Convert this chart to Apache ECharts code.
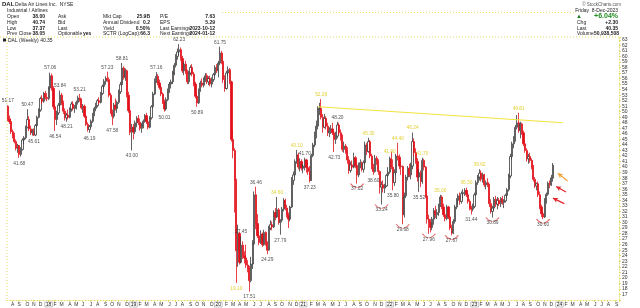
<!DOCTYPE html>
<html><head><meta charset="utf-8">
<script src="https://cdn.jsdelivr.net/npm/echarts@6/dist/echarts.min.js"></script>
<style>html,body{margin:0;padding:0;background:#fff}#c{width:640px;height:308px}</style>
</head><body><div id="c"></div>
<script>
// ---- categories (weekly, Fridays) ----
const firstWeek = [2017, 6, 14];   // 2017-07-14
const weekCount = 375;              // includes empty future weeks to Sep 2024
const monthLetters = ['J','F','M','A','M','J','J','A','S','O','N','D'];

// ---- weekly bars [open, high, low, close] ----
const bars2017 = [
[51.0,51.17,48.3,48.6],[48.6,49.3,47.8,48.2],[48.2,48.8,46.0,46.4],[46.4,46.8,45.2,45.6],[45.6,46.2,44.3,44.6],
[44.6,45.0,43.0,43.4],[43.4,44.2,42.6,43.9],[43.9,44.0,41.68,42.3],[42.3,43.6,41.9,43.2],[43.2,45.2,43.0,44.9],
[44.9,45.6,44.2,45.3],[45.3,47.5,45.0,47.2],[47.2,50.47,47.0,48.6],[48.6,49.2,46.5,46.9],[46.9,47.5,45.8,46.2],
[46.2,46.9,45.7,46.5],[46.5,47.0,45.61,45.8],[45.8,47.8,45.6,47.5],[47.5,49.3,47.2,49.0],[49.0,50.6,48.8,50.3],
[50.3,52.7,50.0,52.4],[52.4,53.0,51.4,51.9],[51.9,53.6,51.6,53.3],[53.3,53.8,52.2,52.6],[52.6,53.4,51.9,52.4]];
const bars2018 = [
[52.4,54.6,52.1,54.3],[54.3,57.06,54.0,56.5],[56.5,56.9,53.8,54.2],[54.2,54.6,50.4,50.9],[50.9,51.4,46.54,48.6],
[48.6,50.2,47.6,49.8],[49.8,51.6,49.4,51.2],[51.2,53.84,50.9,53.0],[53.0,53.4,51.2,51.6],[51.6,52.0,49.6,50.1],
[50.1,50.6,48.4,48.9],[48.9,49.8,48.21,49.4],[49.4,50.4,48.6,49.0],[49.0,50.8,48.8,50.5],[50.5,51.8,50.0,51.4],
[51.4,51.9,50.2,50.6],[50.6,51.2,49.8,50.9],[50.9,52.0,50.4,51.7],[51.7,52.9,51.3,52.5],[52.5,53.21,51.8,52.1],
[52.1,52.4,50.4,50.7],[50.7,51.4,49.8,51.0],[51.0,51.3,48.9,49.2],[49.2,49.6,47.4,47.7],[47.7,48.1,46.4,46.8],
[46.8,47.6,46.19,47.3],[47.3,48.6,47.0,48.3],[48.3,49.8,48.0,49.5],[49.5,50.9,49.2,50.6],[50.6,51.6,50.1,51.1],
[51.1,52.3,50.8,52.0],[52.0,52.6,51.3,51.7],[51.7,53.6,51.5,53.3],[53.3,54.9,53.0,54.6],[54.6,55.9,54.2,55.5],
[55.5,56.4,54.9,56.0],[56.0,57.23,55.4,55.8],[55.8,56.2,52.6,53.0],[53.0,53.4,49.6,50.0],[50.0,50.4,47.58,49.2],
[49.2,51.6,48.8,51.2],[51.2,52.4,50.2,50.6],[50.6,52.0,49.8,51.7],[51.7,54.0,51.4,53.6],[53.6,55.4,53.2,54.9],
[54.9,58.81,54.6,57.9],[57.9,58.2,55.8,56.2],[56.2,57.8,55.6,57.4],[57.4,57.6,52.6,53.0],[53.0,53.6,49.8,50.2],
[50.2,50.6,45.8,46.3],[46.3,47.8,43.0,47.2]];
const bars2019 = [
[47.2,47.8,45.0,46.4],[46.4,48.4,46.0,48.0],[48.0,49.2,47.2,48.8],[48.8,49.4,47.6,48.1],[48.1,48.8,46.6,47.0],
[47.0,48.0,46.2,47.6],[47.6,48.6,47.0,48.3],[48.3,49.6,48.0,49.3],[49.3,49.8,47.8,48.2],[48.2,48.6,46.8,47.2],
[47.2,49.2,47.0,48.9],[48.9,51.2,48.6,50.9],[50.9,53.6,50.6,53.2],[53.2,56.0,53.0,55.6],[55.6,57.16,55.2,56.4],
[56.4,56.8,54.8,55.2],[55.2,55.8,54.0,54.4],[54.4,54.8,52.8,53.2],[53.2,53.5,51.4,51.8],[51.8,52.2,50.01,50.5],
[50.5,52.6,50.2,52.2],[52.2,54.2,51.9,53.8],[53.8,55.4,53.4,55.0],[55.0,55.8,54.2,55.4],[55.4,57.4,55.0,57.0],
[57.0,58.8,56.6,58.4],[58.4,60.4,58.0,60.0],[60.0,61.4,59.4,60.8],[60.8,62.23,60.2,61.2],[61.2,61.6,59.2,59.6],
[59.6,60.1,57.0,57.4],[57.4,59.0,56.6,58.6],[58.6,59.2,56.8,57.2],[57.2,57.6,55.0,55.4],[55.4,57.4,55.0,57.0],
[57.0,58.4,56.6,58.0],[58.0,58.6,56.4,56.8],[56.8,57.2,54.6,55.0],[55.0,55.4,52.4,52.8],[52.8,53.2,50.89,51.6],
[51.6,54.2,51.4,53.9],[53.9,55.6,53.6,55.2],[55.2,56.0,54.4,54.8],[54.8,56.2,54.4,55.9],[55.9,57.0,55.4,56.5],
[56.5,56.9,55.0,55.4],[55.4,56.4,54.8,56.0],[56.0,56.5,54.6,55.0],[55.0,56.2,54.4,55.8],[55.8,57.0,55.4,56.7],
[56.7,58.4,56.4,58.0],[58.0,58.6,57.0,57.4]];
const bars2020 = [
[57.4,59.2,56.2,58.8],[58.8,61.75,58.4,60.6],[60.6,61.0,58.6,59.1],[59.1,59.4,55.2,55.8],[55.8,56.6,53.6,54.2],
[54.2,57.4,54.0,57.0],[57.0,58.2,56.4,57.6],[57.6,57.9,55.0,55.4],[55.4,55.6,44.6,45.0],[45.0,46.8,41.6,43.0],
[43.0,43.4,31.8,37.6],[37.6,37.9,19.10,24.9],[24.9,29.6,22.0,28.0],[28.0,28.3,22.4,22.8],[22.8,27.45,22.6,25.9],
[25.9,26.6,23.4,24.0],[24.0,24.8,22.6,23.6],[23.6,26.0,21.8,22.3],[22.3,23.2,21.0,21.8],[21.8,22.2,17.51,19.5],
[19.5,23.8,19.2,22.5],[22.5,26.8,21.6,26.1],[26.1,35.6,26.0,35.0],[35.0,36.46,28.8,29.8],[29.8,31.5,27.2,27.6],
[27.6,28.3,25.9,26.4],[26.4,28.6,26.1,27.9],[27.9,28.2,25.6,26.0],[26.0,28.7,25.8,28.2],[28.2,28.4,25.8,26.3],
[26.3,26.6,24.29,25.0],[25.0,29.4,24.9,29.0],[29.0,30.4,28.6,29.6],[29.6,30.2,28.6,29.2],[29.2,32.2,29.0,31.8],
[31.8,32.6,30.4,31.0],[31.0,34.6,30.8,32.3],[32.3,32.6,29.6,30.0],[30.0,30.6,27.79,30.4],[30.4,32.8,30.0,32.4],
[32.4,34.4,32.0,34.0],[34.0,34.3,32.2,32.6],[32.6,33.2,30.9,31.3],[31.3,31.8,29.0,30.6],[30.6,33.0,30.2,32.8],
[32.8,38.2,32.6,37.6],[37.6,39.2,36.8,38.6],[38.6,41.4,38.2,41.0],[41.0,43.1,40.6,42.2],[42.2,42.6,39.6,40.0],
[40.0,41.6,39.2,41.0],[41.0,41.4,39.4,39.8]];
const bars2021 = [
[39.8,40.6,38.9,40.2],[40.2,41.7,39.4,41.3],[41.3,41.5,39.0,39.9],[39.9,40.8,38.6,39.2],[39.2,40.2,37.23,37.6],
[37.6,42.4,37.5,42.1],[42.1,44.4,41.8,44.0],[44.0,46.4,43.6,46.1],[46.1,48.4,45.2,47.4],[47.4,51.0,46.8,50.5],
[50.5,51.6,49.4,50.6],[50.6,52.28,48.6,49.0],[49.0,49.6,46.2,47.2],[47.2,49.6,47.0,48.8],[48.8,49.2,46.8,47.4],
[47.4,48.0,45.6,46.2],[46.2,47.2,45.4,46.6],[46.6,47.6,46.0,46.9],[46.9,48.0,45.8,46.2],[46.2,46.6,42.73,45.0],
[45.0,46.4,44.2,45.6],[45.6,48.2,45.2,47.6],[47.6,48.0,45.8,46.2],[46.2,46.8,44.8,45.6],[45.6,45.9,42.8,43.2],
[43.2,44.6,42.6,43.8],[43.8,44.2,42.4,42.9],[42.9,43.6,40.6,41.3],[41.3,42.0,38.8,39.4],[39.4,41.0,39.0,40.4],
[40.4,41.2,39.6,40.0],[40.0,42.6,39.8,41.7],[41.7,42.0,39.8,40.3],[40.3,40.6,37.02,38.6],[38.6,40.8,38.2,40.5],
[40.5,41.4,39.8,40.8],[40.8,41.0,39.2,39.6],[39.6,41.2,39.0,40.8],[40.8,44.6,40.6,44.0],[44.0,44.4,42.2,42.8],
[42.8,45.3,42.6,44.6],[44.6,44.9,41.6,42.0],[42.0,42.4,39.6,40.1],[40.1,40.6,38.6,39.2],[39.2,42.2,39.0,41.6],
[41.6,42.0,40.4,41.0],[41.0,41.4,38.6,39.2],[39.2,39.4,35.2,36.4],[36.4,37.4,33.24,36.8],[36.8,37.6,35.4,36.2],
[36.2,37.0,35.3,36.6],[36.6,38.8,36.4,38.5],[38.5,40.0,38.2,39.1]];
const bars2022 = [
[39.1,41.9,38.8,41.5],[41.5,42.8,39.6,40.0],[40.0,41.4,35.8,37.2],[37.2,39.6,36.6,39.0],[39.0,42.4,38.6,42.0],
[42.0,44.4,41.2,41.8],[41.8,42.3,39.6,40.2],[40.2,41.0,38.6,40.1],[40.1,40.3,29.68,31.4],[31.4,35.4,30.9,34.8],
[34.8,38.6,34.4,38.2],[38.2,40.2,37.6,39.8],[39.8,40.6,38.2,38.6],[38.6,40.8,37.8,40.2],[40.2,46.24,39.6,44.6],
[44.6,45.2,42.0,42.6],[42.6,43.4,40.6,41.0],[41.0,41.6,37.4,38.2],[38.2,39.6,35.52,39.0],[39.0,39.4,36.4,37.4],
[37.4,41.7,37.0,41.2],[41.2,41.5,39.4,40.0],[40.0,40.2,34.4,34.8],[34.8,35.0,29.8,30.6],[30.6,31.4,27.96,30.0],
[30.0,30.6,28.2,29.1],[29.1,31.0,28.6,30.6],[30.6,32.6,29.6,32.1],[32.1,33.0,30.8,31.4],[31.4,32.4,30.6,31.8],
[31.8,33.4,31.2,33.0],[33.0,35.0,32.8,34.6],[34.6,34.9,32.4,32.8],[32.8,33.4,31.0,31.4],[31.4,31.8,30.2,30.7],
[30.7,33.2,30.4,32.8],[32.8,33.0,30.6,31.0],[31.0,31.2,28.6,29.0],[29.0,29.6,27.67,28.1],[28.1,30.6,27.9,30.2],
[30.2,33.2,29.8,32.8],[32.8,34.4,32.4,34.0],[34.0,35.2,33.4,34.8],[34.8,35.4,33.2,33.8],[33.8,35.6,33.4,35.2],
[35.2,36.0,34.4,35.4],[35.4,36.2,34.8,35.8],[35.8,36.3,34.6,35.0],[35.0,35.4,33.4,33.8],[33.8,34.2,32.2,32.6],
[32.6,33.0,31.44,32.4],[32.4,33.4,32.0,32.9]];
const bars2023 = [
[32.9,35.4,32.6,35.0],[35.0,37.6,34.8,37.2],[37.2,38.6,36.8,38.2],[38.2,39.62,37.6,38.9],[38.9,39.4,37.4,37.8],
[37.8,39.0,37.2,38.6],[38.6,38.8,36.4,36.8],[36.8,37.6,36.0,37.2],[37.2,38.0,36.4,36.8],[36.8,37.0,32.8,33.4],
[33.4,34.2,31.6,32.0],[32.0,33.0,30.89,32.6],[32.6,34.6,32.2,34.2],[34.2,34.8,32.8,33.3],[33.3,34.6,32.4,34.0],
[34.0,34.4,33.0,33.4],[33.4,34.6,32.8,34.3],[34.3,34.8,33.2,33.6],[33.6,34.2,32.6,33.9],[33.9,35.2,33.6,34.9],
[34.9,36.2,34.4,35.9],[35.9,38.8,35.6,38.4],[38.4,42.4,38.0,41.9],[41.9,44.6,41.4,44.2],[44.2,45.6,43.4,45.0],
[45.0,47.6,44.6,47.2],[47.2,49.4,46.8,48.0],[48.0,49.81,46.2,46.6],[46.6,48.2,45.2,47.8],[47.8,48.0,45.8,46.2],
[46.2,46.6,43.8,44.2],[44.2,44.8,42.6,43.0],[43.0,43.4,41.0,41.5],[41.5,42.4,40.6,41.9],[41.9,42.6,40.8,41.2],
[41.2,41.6,39.6,40.0],[40.0,40.4,37.4,37.8],[37.8,38.2,36.2,36.6],[36.6,37.2,35.8,37.0],[37.0,37.4,34.6,35.0],
[35.0,35.6,32.4,32.8],[32.8,33.2,31.0,31.6],[31.6,32.0,30.60,31.0],[31.0,34.4,30.8,34.0],[34.0,35.4,33.4,35.1],
[35.1,37.4,34.8,37.1],[37.1,37.6,36.2,36.8],[36.8,38.6,36.6,38.05],[38.0,40.74,37.37,40.35]];

// ---- price annotations: [week index, price, side t/b, colour k/y] ----
const priceNotes = [
[0,51.17,'t','k'],[7,41.68,'b','k'],[12,50.47,'t','k'],[16,45.61,'b','k'],[26,57.06,'t','k'],[29,46.54,'b','k'],
[32,53.84,'t','k'],[36,48.21,'b','k'],[44,53.21,'t','k'],[50,46.19,'b','k'],[61,57.23,'t','k'],[64,47.58,'b','k'],
[70,58.81,'t','k'],[76,43.00,'b','k'],[91,57.16,'t','k'],[96,50.01,'b','k'],[105,62.23,'t','k'],[116,50.89,'b','k'],
[130,61.75,'t','k'],[140,19.10,'b','y'],[143,27.45,'t','k'],[148,17.51,'b','k'],[152,36.46,'t','k'],[159,24.29,'b','k'],
[165,34.60,'t','y'],[167,27.79,'b','k'],[177,43.10,'t','y'],[182,41.70,'t','k'],[185,37.23,'b','k'],[192,52.28,'t','y'],
[200,42.73,'b','k'],[202,48.20,'t','k'],[214,37.02,'b','k'],[221,45.30,'t','y'],[224,38.60,'b','k'],[229,33.24,'b','k'],
[234,41.90,'t','y'],[236,35.80,'b','k'],[239,44.40,'t','y'],[242,29.68,'b','k'],[248,46.24,'t','y'],[252,35.52,'b','k'],
[254,41.70,'t','y'],[258,27.96,'b','k'],[265,35.00,'t','y'],[272,27.67,'b','k'],[281,36.30,'t','y'],[284,31.44,'b','k'],
[289,39.62,'t','y'],[297,30.89,'b','k'],[313,49.81,'t','y'],[328,30.60,'b','k']];
// lows marked with red arcs
const arcLows = [[214,37.02],[229,33.24],[242,29.68],[258,27.96],[272,27.67],[297,30.89],[328,30.60]];
// yellow trendline [week, price] endpoints
const trendLine = [[190,50.91],[340,48.02]];
// red arrows [from week, from price, to week, to price, colour]
const arrows = [[343,37.5,337,38.9,'#f0a23a'],[342,35.5,336,36.5,'#e3262c'],[341,33.4,334,34.4,'#e3262c']];
const lastPrice = 40.35;
const yMin = 16, yMax = 63.5, yStep = 1;

// ---- build ----
const dates = [];
const t0 = Date.UTC(firstWeek[0], firstWeek[1], firstWeek[2]);
for (let i = 0; i < weekCount; i++) dates.push(new Date(t0 + i * 7 * 86400000).toISOString().slice(0, 10));
const bars = [].concat(bars2017, bars2018, bars2019, bars2020, bars2021, bars2022, bars2023);
const candle = bars.map(b => [b[0], b[3], b[2], b[1]]);
const isMonthStart = (idx, v) => +dates[idx].slice(8, 10) <= 7;

const FONT = '"Liberation Sans", Arial, sans-serif';
const YEL = '#e6dc6a';
const chart = echarts.init(document.getElementById('c'), null, {renderer: 'canvas'});

function txt(t, x, y, o) {
  o = o || {};
  return {type: 'text', x: x, y: y, silent: true,
    style: {text: t, x: 0, y: 0, fill: o.c || '#222', font: (o.b ? 'bold ' : '') + (o.s || 5.5) + 'px ' + FONT,
      textAlign: o.a || 'left', textVerticalAlign: 'middle'}};
}
const hdr = [
  txt('DAL', 2, 4.5, {b: 1, s: 6}), txt('Delta Air Lines Inc.  NYSE', 15, 4.5, {s: 5}),
  txt('Industrial / Airlines', 7, 10.5, {s: 5}),
  txt('Open', 7, 16.5, {s: 5}), txt('38.00', 45, 16.5, {a: 'right', b: 1, s: 5}), txt('Ask', 58, 16.5, {s: 5}),
  txt('Mkt Cap', 103, 16.5, {s: 5}), txt('25.9B', 150, 16.5, {a: 'right', b: 1, s: 5}),
  txt('P/E', 160, 16.5, {s: 5}), txt('7.63', 215, 16.5, {a: 'right', b: 1, s: 5}),
  txt('High', 7, 22.3, {s: 5}), txt('40.74', 45, 22.3, {a: 'right', b: 1, s: 5}), txt('Bid', 58, 22.3, {s: 5}),
  txt('Annual Dividend', 103, 22.3, {s: 5}), txt('0.2', 150, 22.3, {a: 'right', b: 1, s: 5}),
  txt('EPS', 160, 22.3, {s: 5}), txt('5.29', 215, 22.3, {a: 'right', b: 1, s: 5}),
  txt('Low', 7, 28.2, {s: 5}), txt('37.37', 45, 28.2, {a: 'right', b: 1, s: 5}), txt('Last', 58, 28.2, {s: 5}),
  txt('Yield', 103, 28.2, {s: 5}), txt('0.50%', 150, 28.2, {a: 'right', b: 1, s: 5}),
  txt('Last Earnings', 160, 28.2, {s: 5}), txt('2023-10-12', 215, 28.2, {a: 'right', b: 1, s: 5}),
  txt('Prev Close', 7, 34, {s: 5}), txt('38.05', 45, 34, {a: 'right', b: 1, s: 5}),
  txt('Optionable', 58, 34, {s: 5}), txt('yes', 83, 34, {b: 1, s: 5}),
  txt('SCTR (LogCap):', 103, 34, {s: 5}), txt('66.3', 150, 34, {a: 'right', b: 1, s: 5}),
  txt('Next Earnings', 160, 34, {s: 5}), txt('2024-01-12', 215, 34, {a: 'right', b: 1, s: 5}),
  txt('\u00a9 StockCharts.com', 621, 4.5, {a: 'right', s: 4.5, c: '#555'}),
  txt('Friday  8-Dec-2023', 618, 10.5, {a: 'right', s: 5}),
  txt('\u25b2', 576, 16.5, {s: 6, c: '#1e7d1e'}), txt('+6.04%', 618, 16.3, {a: 'right', b: 1, s: 7, c: '#1e8a1e'}),
  txt('Chg', 577, 22.5, {s: 5}), txt('+2.30', 618, 22.5, {a: 'right', b: 1, s: 5}),
  txt('Last', 577, 28.3, {s: 5}), txt('40.35', 618, 28.3, {a: 'right', b: 1, s: 5}),
  txt('Volume', 577, 34, {s: 5}), txt('50,938,508', 619, 34, {a: 'right', b: 1, s: 5}),
  {type: 'rect', shape: {x: 3, y: 38.5, width: 3, height: 3}, style: {fill: '#222'}, silent: true},
  txt('DAL (Weekly) 40.35', 8, 40.5, {s: 5}),
  {type: 'line', shape: {x1: 0, y1: 37, x2: 619, y2: 37}, style: {stroke: YEL, lineWidth: 1, lineDash: [1, 2]}, silent: true},
  {type: 'line', shape: {x1: 222, y1: 12.5, x2: 575, y2: 12.5}, style: {stroke: YEL, lineWidth: 1, lineDash: [1, 2]}, silent: true},
  {type: 'line', shape: {x1: 7, y1: 37, x2: 7, y2: 300}, style: {stroke: YEL, lineWidth: 1, lineDash: [1, 2]}, silent: true}
];

const noteData = priceNotes.map(n => ({
  value: [n[0], n[1]],
  label: {show: true, position: n[2] === 't' ? 'top' : 'bottom', distance: n[2] === 't' ? 2 : 3,
    formatter: n[1].toFixed(2), color: n[3] === 'y' ? '#d9c400' : '#222', fontSize: 4.8, fontFamily: FONT}
}));

const option = {
  animation: false,
  backgroundColor: '#ffffff',
  grid: {left: 7, right: 21, top: 37, bottom: 8},
  xAxis: {
    type: 'category', data: dates, boundaryGap: true,
    axisLine: {lineStyle: {color: YEL, type: [1, 2]}},
    axisTick: {show: true, interval: isMonthStart, length: 2, lineStyle: {color: YEL}},
    axisLabel: {
      interval: isMonthStart, margin: 2, fontSize: 5, color: '#333', fontFamily: FONT,
      formatter: v => { const m = +v.slice(5, 7); return m === 1 ? '{y|' + v.slice(2, 4) + '}' : monthLetters[m - 1]; },
      rich: {y: {fontSize: 5, color: '#222', borderColor: '#888', borderWidth: 0.5, padding: [0, 1, 0, 1]}}
    },
    splitLine: {show: false}
  },
  yAxis: {
    type: 'value', position: 'right', min: yMin, max: yMax, interval: yStep, scale: true,
    axisLine: {show: true, lineStyle: {color: YEL, type: [1, 2]}},
    axisTick: {show: true, length: 2, lineStyle: {color: YEL}},
    axisLabel: {fontSize: 5, color: '#333', margin: 3, fontFamily: FONT,
      formatter: v => (v < 17 || v > 63) ? '' : String(v)},
    splitLine: {show: false}
  },
  series: [
    {
      type: 'candlestick', data: candle, barWidth: 1.7,
      itemStyle: {color: '#ffffff', color0: '#e3101b', borderColor: '#3a3a3a', borderColor0: '#e3101b', borderWidth: 0.8},
      markLine: {
        silent: true, symbol: 'none', animation: false,
        data: [
          [{coord: trendLine[0], lineStyle: {color: '#f2e33c', width: 1, type: 'solid'}, label: {show: false}},
           {coord: trendLine[1]}],
          {yAxis: lastPrice, lineStyle: {opacity: 0},
           label: {show: true, position: 'end', distance: 3, formatter: lastPrice.toFixed(2), fontSize: 5,
             fontWeight: 'bold', color: '#fff', backgroundColor: '#6b6b6b', padding: [1, 1, 0, 1], fontFamily: FONT}}
        ]
      }
    },
    {
      type: 'scatter', data: arcLows, symbol: 'path://M0 0 Q10 9 20 0', symbolSize: [13, 4], symbolOffset: [0, 2],
      itemStyle: {color: 'none', borderColor: '#e04848', borderWidth: 0.9}, silent: true, z: 4
    },
    {
      type: 'scatter', data: noteData, symbolSize: 0, silent: true, z: 5
    },
    {
      type: 'line', data: [], silent: true,
      markLine: {
        silent: true, symbol: ['none', 'arrow'], symbolSize: [4, 5],
        data: arrows.map(a => [{coord: [a[0], a[1]], lineStyle: {color: a[4], width: 1.2, type: 'solid'}, label: {show: false}},
                               {coord: [a[2], a[3]]}])
      }
    }
  ],
  graphic: hdr
};
chart.setOption(option);
</script></body></html>
